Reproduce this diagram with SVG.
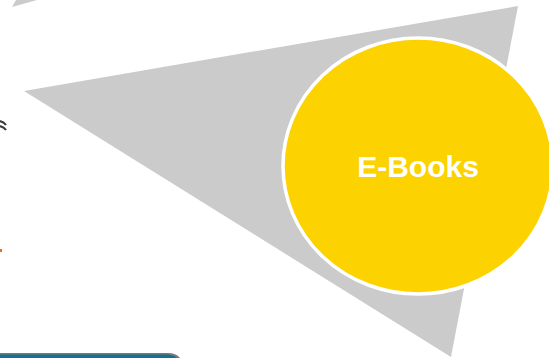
<svg xmlns="http://www.w3.org/2000/svg" width="549" height="358" viewBox="0 0 549 358">
<style>
.grey{fill:#cbcbcb}
.label{font-family:"Liberation Sans",Arial,sans-serif;font-weight:bold;font-size:30px;fill:#ffffff}
</style>
<rect width="549" height="358" fill="#ffffff"/>
<polygon class="grey" points="12,7 37,0 16,0"/>
<path d="M0,121 Q4,122 6,125 M0,126 Q4,127 6,130" fill="none" stroke="#3a3a3a" stroke-width="2.2"/>
<rect x="0" y="249" width="2" height="3" fill="#f26a1b"/>
<g id="triangle">
<polygon class="grey" points="24,91 518,6 451,357"/>
</g>
<g id="ebooks">
<ellipse cx="418" cy="166" rx="135" ry="128" fill="#fcd200" stroke="#ffffff" stroke-width="3.5"/>
<text class="label" x="418" y="177" text-anchor="middle">E-Books</text>
</g>
<g id="bar">
<path d="M0,353 L168,353 Q176,353 180,358 L0,358 Z" fill="#7a7a7a"/>
<path d="M0,354.5 L166,354.5 Q173,354.5 177,358 L0,358 Z" fill="#156f8e"/>
</g>
</svg>
